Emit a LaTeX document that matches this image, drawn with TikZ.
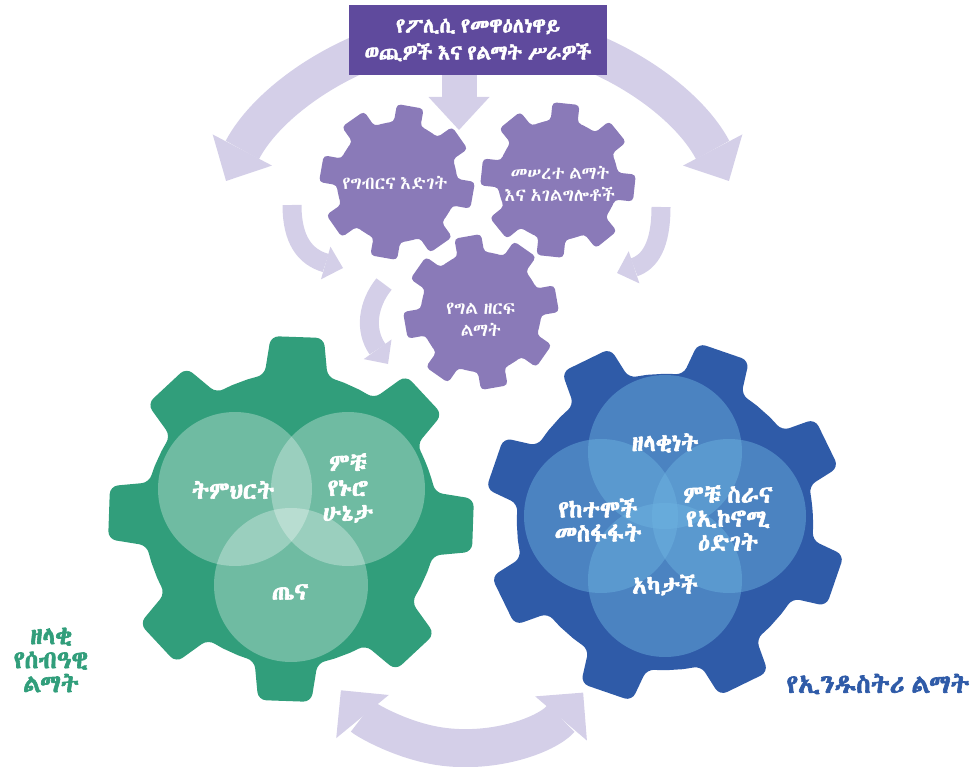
\documentclass[tikz,border=0pt]{standalone}
\usepackage{fontspec}
\IfFontExistsTF{Abyssinica SIL}
  {\setmainfont{Abyssinica SIL}[AutoFakeBold=2.5,WordSpace=0.6]}
  {\IfFontExistsTF{FreeSerif.otf}
    {\setmainfont{FreeSerif.otf}[AutoFakeBold=2.5,WordSpace=0.6]}
    {\IfFontExistsTF{FreeSerif}
      {\setmainfont{FreeSerif}[AutoFakeBold=2.5,WordSpace=0.6]}
      {\setmainfont{DejaVu Sans}}}}
\usetikzlibrary{arrows.meta,calc}
\definecolor{boxpurple}{RGB}{95,74,157}
\definecolor{lav}{RGB}{212,207,232}
\definecolor{gearpurple}{RGB}{138,122,184}
\definecolor{ggreen}{RGB}{49,158,123}
\definecolor{gblue}{RGB}{47,91,168}
\definecolor{vblue}{RGB}{110,180,225}
\newcommand\mygear[8]{%
  \fill[#7, rounded corners=#8] ($(#1)+({#6-22.5}:#2)$)
  \foreach \k in {0,...,7}{
    arc[start angle={#6+45*\k-22.5}, end angle={#6+45*\k-#4}, radius=#2]
    -- ($(#1)+({#6+45*\k-#5}:#3)$)
    -- ($(#1)+({#6+45*\k+#5}:#3)$)
    -- ($(#1)+({#6+45*\k+#4}:#2)$)
    arc[start angle={#6+45*\k+#4}, end angle={#6+45*\k+22.5}, radius=#2]
  };
}
\tikzset{
  bigarrow/.style={draw=lav, line width=38pt, line cap=butt},
  bigtip/.style={-{Triangle[width=67pt,length=35pt,line width=0pt]}},
  smallarrow/.style={draw=lav, line width=19pt, line cap=butt,
    -{Triangle[width=34pt,length=18pt,line width=0pt]}},
  boxstyle/.style={fill=boxpurple, minimum width=258pt, minimum height=70pt,
    inner sep=0pt, text=white, align=center, font=\bfseries\fontsize{20.5}{27}\selectfont},
  geartext/.style={text=white, align=center, inner sep=0pt, font=\fontsize{18}{22}\selectfont},
  greentext/.style={text=white, align=center, inner sep=0pt, font=\bfseries\fontsize{24}{25}\selectfont},
  bluetext/.style={text=white, align=center, inner sep=0pt, font=\bfseries\fontsize{24}{24}\selectfont},
  gvenn/.style={fill=white, fill opacity=0.3},
  bvenn/.style={fill=vblue, fill opacity=0.45},
  glabel/.style={text=ggreen, align=center, inner sep=0pt, font=\bfseries\fontsize{25}{24}\selectfont},
  blabel/.style={text=gblue, align=center, inner sep=0pt, font=\bfseries\fontsize{26}{24}\selectfont},
}
\begin{document}
\begin{tikzpicture}[x=1pt,y=-1pt]
\useasboundingbox (0,0) rectangle (974,767);
% big lavender arcs
\coordinate (arcC) at (477.5,313);
\coordinate (la) at ($(arcC)+(-100:284)$);
\coordinate (ra) at ($(arcC)+(-80:284)$);
\draw[bigarrow,bigtip] (la) arc[start angle=-100, end angle=-152.3, radius=284];
\draw[bigarrow,bigtip] (ra) arc[start angle=-80, end angle=-27.7, radius=284];
\coordinate (ca0) at (459,60);
\coordinate (ca1) at (459,130);
\draw[draw=lav, line width=35pt, -{Triangle[width=61pt,length=33pt,line width=0pt]}] (ca0) -- (ca1);
% top box
\node[boxstyle] (policy) at (478,40) {የፖሊሲ የመዋዕለነዋይ\\ወጪዎች እና የልማት ሥራዎች};
% small arrows
\coordinate (a0) at (292,205); \coordinate (a1) at (343,268);
\draw[smallarrow] (a0) .. controls (292,240) and (305,257) .. (a1);
\coordinate (b0) at (661,207); \coordinate (b1) at (617,273);
\draw[smallarrow] (b0) .. controls (661,245) and (650,262) .. (b1);
\coordinate (c0) at (384,284); \coordinate (c1) at (388,364);
\draw[smallarrow] (c0) .. controls (368,304) and (364,330) .. (c1);
% bottom double arrow
\coordinate (botC) at (463,590);
\coordinate (bs) at ($(botC)+(40.5:158)$);
\draw[bigarrow,{Triangle[width=68pt,length=34pt,line width=0pt]}-{Triangle[width=68pt,length=34pt,line width=0pt]}]
  (bs) arc[start angle=40.5, end angle=140.6, radius=158];
% purple gears
\coordinate (g1) at (397,182);
\coordinate (g2) at (558,180);
\coordinate (g3) at (481,312);
\mygear{g1}{60}{78}{13}{10}{10}{gearpurple}{4pt}
\mygear{g2}{60}{78}{13}{10}{6}{gearpurple}{4pt}
\mygear{g3}{60}{78}{13}{10}{-10}{gearpurple}{4pt}
\node[geartext] (t1) at (395,183) {የግብርና እድገት};
\node[geartext] (t2) at (560,184) {መሠረተ ልማት\\እና አገልግሎቶች};
\node[geartext] (t3) at (481,320) {የግል ዘርፍ\\ልማት};
% green gear
\coordinate (gg) at (291,519);
\mygear{gg}{146}{184}{12.5}{8.3}{2}{ggreen}{8pt}
\fill[gvenn] (235,489) circle[radius=77pt];
\fill[gvenn] (348,489) circle[radius=77pt];
\fill[gvenn] (291,585) circle[radius=77pt];
\node[greentext] (edu) at (233,490) {ትምህርት};
\node[greentext] (liv) at (348,488) {ምቹ\\የኑሮ\\ሁኔታ};
\node[greentext] (hea) at (290,592) {ጤና};
% blue gear
\coordinate (bg) at (665,522);
\mygear{bg}{148}{182}{12}{8.5}{19}{gblue}{8pt}
\fill[bvenn] (665,452) circle[radius=77pt];
\fill[bvenn] (601,516) circle[radius=77pt];
\fill[bvenn] (729,516) circle[radius=77pt];
\fill[bvenn] (665,580) circle[radius=77pt];
\node[bluetext] (sus) at (665,443) {ዘላቂነት};
\node[bluetext] (urb) at (598,520) {የከተሞች\\መስፋፋት};
\node[bluetext] (eco) at (728,518) {ምቹ ስራና\\የኢኮኖሚ\\ዕድገት};
\node[bluetext] (inc) at (665,585) {አካታች};
% labels
\node[glabel] (hum) at (51,660) {ዘላቂ\\የሰብዓዊ\\ልማት};
\node[blabel] (ind) at (878,684) {የኢንዱስትሪ ልማት};
\end{tikzpicture}
\end{document}
